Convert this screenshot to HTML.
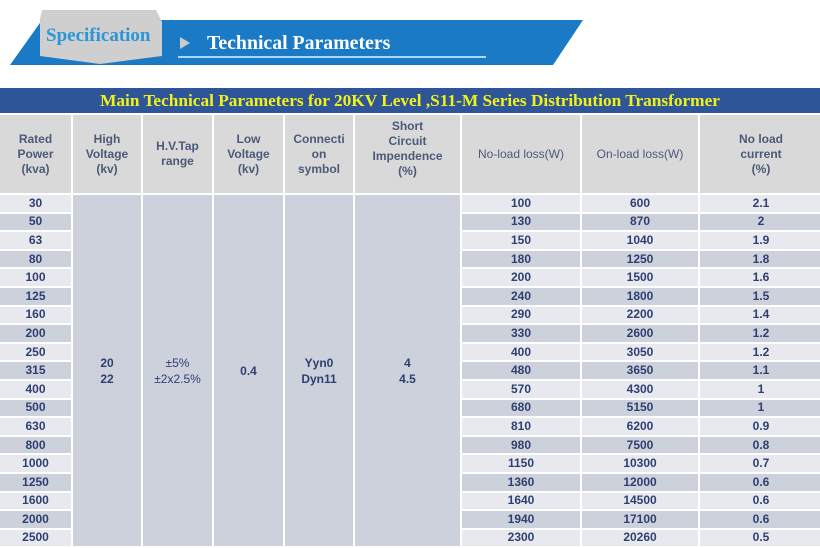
<!DOCTYPE html>
<html><head><meta charset="utf-8"><style>
*{margin:0;padding:0;box-sizing:border-box}
body{width:820px;height:546px;background:#fff;position:relative;overflow:hidden;font-family:"Liberation Sans",Arial,sans-serif}
.banner{position:absolute;left:0;top:0}
.title{position:absolute;left:0;top:88px;width:820px;height:25px;background:#2e5597;color:#f2f21a;font-family:"Liberation Serif",serif;font-weight:bold;font-size:17.3px;text-align:center;line-height:25px}
table{position:absolute;left:-2px;top:113px;border-collapse:collapse;table-layout:fixed;width:824px}
td{border:2px solid #fff;text-align:center;font-weight:bold;color:#2e3f70;font-size:12px;padding:0;line-height:13px}
tr.h td{background:#d9d9d9;color:#4b5a78;height:80px;font-size:12px;line-height:15px}
tr.d td{height:18.6px}
tr.l td{background:#e7e9ef}
tr.k td{background:#cdd1dc}
td.m{background:#cdd1dc!important;line-height:16px}
</style></head><body>
<svg class="banner" width="600" height="80">
<polygon points="10,65 42,20 583,20 553,65" fill="#1a7ac6"/>
<polygon points="40,19 42,10 156,10 162,22 162,56 100,64 40,56" fill="#cfcfcf"/>
<text x="46" y="41" font-family="Liberation Serif,serif" font-weight="bold" font-size="19" fill="#2a95d8">Specification</text>
<polygon points="180,37 180,49 190,43" fill="#ccc"/>
<text x="207" y="49" font-family="Liberation Serif,serif" font-weight="bold" font-size="19.8" fill="#fff">Technical Parameters</text>
<rect x="178" y="56" width="308" height="2" fill="#a8d8f8"/>
</svg>
<div class="title">Main Technical Parameters for 20KV Level ,S11-M Series Distribution Transformer</div>
<table>
<colgroup><col style="width:73px"><col style="width:70px"><col style="width:71px"><col style="width:71px"><col style="width:70px"><col style="width:107px"><col style="width:120px"><col style="width:118px"><col style="width:124px"></colgroup>
<tr class="h"><td>Rated<br>Power<br>(kva)</td><td>High<br>Voltage<br>(kv)</td><td>H.V.Tap<br>range</td><td>Low<br>Voltage<br>(kv)</td><td>Connecti<br>on<br>symbol</td><td style="vertical-align:top;padding-top:4px">Short<br>Circuit<br>Impendence<br>(%)</td><td style="font-weight:normal">No-load loss(W)</td><td style="font-weight:normal">On-load loss(W)</td><td>No load<br>current<br>(%)</td></tr>
<tr class="d l"><td>30</td><td class="m" rowspan="19">20<br>22</td><td class="m" rowspan="19" style="font-weight:normal">±5%<br>±2x2.5%</td><td class="m" rowspan="19">0.4</td><td class="m" rowspan="19">Yyn0<br>Dyn11</td><td class="m" rowspan="19">4<br>4.5</td><td>100</td><td>600</td><td>2.1</td></tr>
<tr class="d k"><td>50</td><td>130</td><td>870</td><td>2</td></tr>
<tr class="d l"><td>63</td><td>150</td><td>1040</td><td>1.9</td></tr>
<tr class="d k"><td>80</td><td>180</td><td>1250</td><td>1.8</td></tr>
<tr class="d l"><td>100</td><td>200</td><td>1500</td><td>1.6</td></tr>
<tr class="d k"><td>125</td><td>240</td><td>1800</td><td>1.5</td></tr>
<tr class="d l"><td>160</td><td>290</td><td>2200</td><td>1.4</td></tr>
<tr class="d k"><td>200</td><td>330</td><td>2600</td><td>1.2</td></tr>
<tr class="d l"><td>250</td><td>400</td><td>3050</td><td>1.2</td></tr>
<tr class="d k"><td>315</td><td>480</td><td>3650</td><td>1.1</td></tr>
<tr class="d l"><td>400</td><td>570</td><td>4300</td><td>1</td></tr>
<tr class="d k"><td>500</td><td>680</td><td>5150</td><td>1</td></tr>
<tr class="d l"><td>630</td><td>810</td><td>6200</td><td>0.9</td></tr>
<tr class="d k"><td>800</td><td>980</td><td>7500</td><td>0.8</td></tr>
<tr class="d l"><td>1000</td><td>1150</td><td>10300</td><td>0.7</td></tr>
<tr class="d k"><td>1250</td><td>1360</td><td>12000</td><td>0.6</td></tr>
<tr class="d l"><td>1600</td><td>1640</td><td>14500</td><td>0.6</td></tr>
<tr class="d k"><td>2000</td><td>1940</td><td>17100</td><td>0.6</td></tr>
<tr class="d l"><td>2500</td><td>2300</td><td>20260</td><td>0.5</td></tr>
</table>
</body></html>
